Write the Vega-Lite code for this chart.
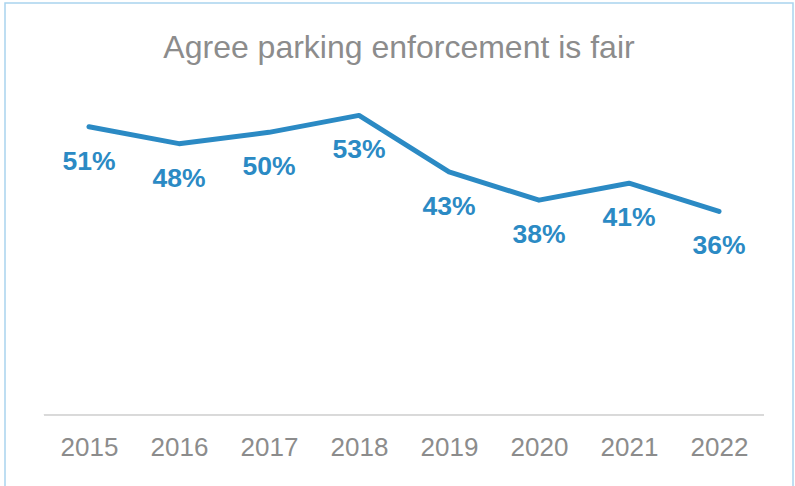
{
  "$schema": "https://vega.github.io/schema/vega-lite/v6.json",
  "autosize": {"type": "none"},
  "width": 788,
  "height": 492,
  "padding": {"left": 5, "top": 3, "right": 2, "bottom": 0},
  "background": "white",
  "config": {
    "view": {"stroke": "#A9D4EE", "strokeWidth": 1.5},
    "font": "Liberation Sans"
  },
  "title": {
    "text": "Agree parking enforcement is fair",
    "anchor": "middle",
    "offset": -62,
    "fontSize": 32,
    "fontWeight": "normal",
    "color": "#8C8C8C",
    "font": "Liberation Sans"
  },
  "data": {
    "values": [
      {"year": 2015, "pct": 51, "label": "51%"},
      {"year": 2016, "pct": 48, "label": "48%"},
      {"year": 2017, "pct": 50, "label": "50%"},
      {"year": 2018, "pct": 53, "label": "53%"},
      {"year": 2019, "pct": 43, "label": "43%"},
      {"year": 2020, "pct": 38, "label": "38%"},
      {"year": 2021, "pct": 41, "label": "41%"},
      {"year": 2022, "pct": 36, "label": "36%"}
    ]
  },
  "layer": [
    {
      "mark": {"type": "line", "color": "#2B8AC4", "strokeWidth": 5, "strokeCap": "round", "strokeJoin": "round"},
      "encoding": {
        "x": {
          "field": "year",
          "type": "quantitative",
          "scale": {"domain": [2014.067, 2022.822], "nice": false, "zero": false},
          "axis": {
            "values": [2015, 2016, 2017, 2018, 2019, 2020, 2021, 2022],
            "format": "d",
            "title": null,
            "domain": false,
            "ticks": false,
            "grid": false,
            "labelFontSize": 26,
            "labelColor": "#8C8C8C",
            "labelFont": "Liberation Sans",
            "offset": -69,
            "labelPadding": 8
          }
        },
        "y": {
          "field": "pct",
          "type": "quantitative",
          "scale": {"domain": [-14.2, 72.9], "nice": false, "zero": false},
          "axis": null
        }
      }
    },
    {
      "mark": {"type": "rule", "color": "#D9D9D9", "strokeWidth": 1.5},
      "encoding": {
        "x": {"datum": 2014.5, "type": "quantitative"},
        "x2": {"datum": 2022.5},
        "y": {"datum": 0, "type": "quantitative"}
      }
    },
    {
      "mark": {"type": "text", "color": "#2B8AC4", "fontWeight": "bold", "fontSize": 26.5, "font": "Liberation Sans", "baseline": "middle", "dy": 35},
      "encoding": {
        "x": {"field": "year", "type": "quantitative"},
        "y": {"field": "pct", "type": "quantitative"},
        "text": {"field": "label", "type": "nominal"}
      }
    }
  ]
}
